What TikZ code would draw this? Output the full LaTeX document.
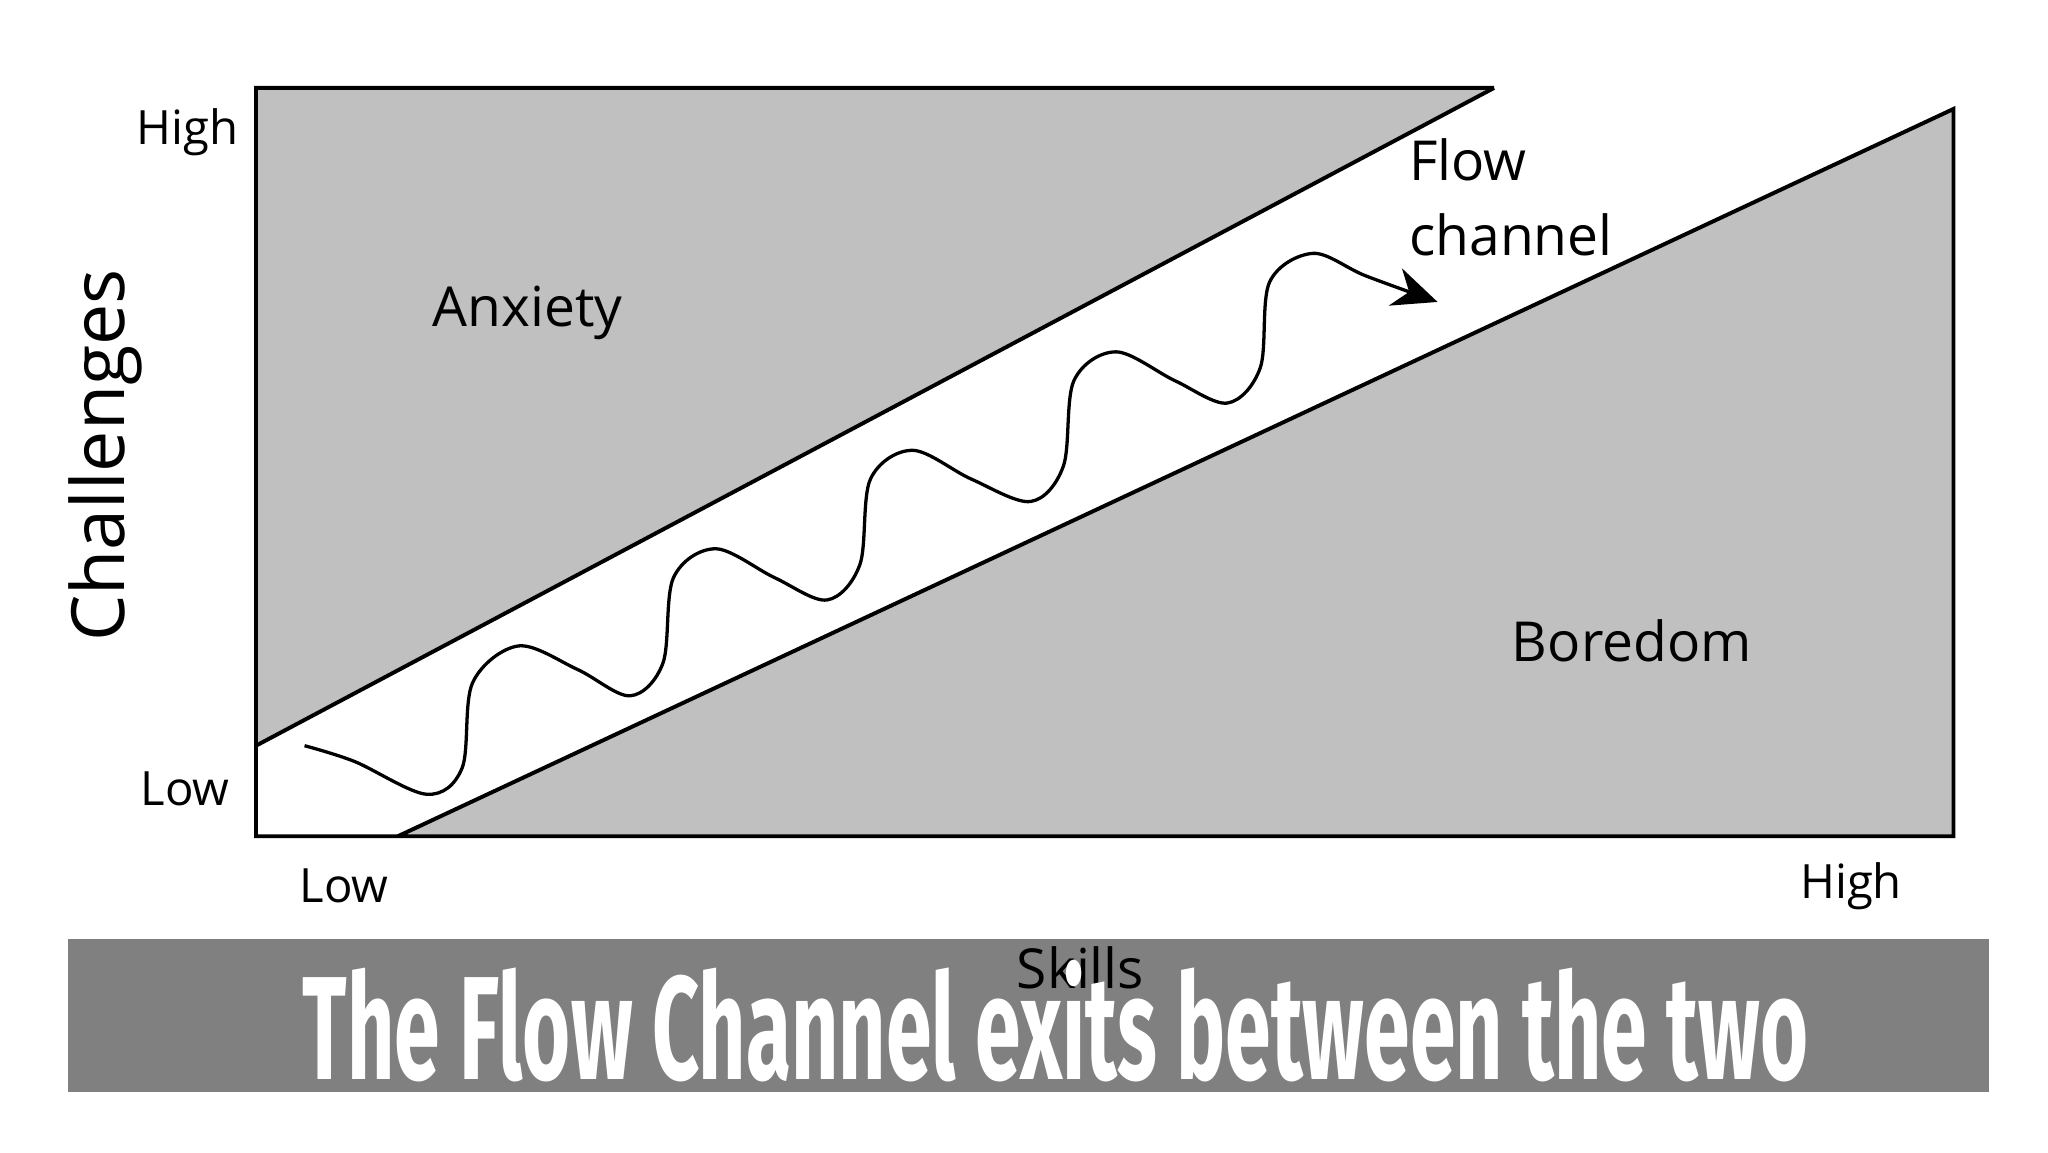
\documentclass[tikz,border=0pt]{standalone}
\usepackage{fontspec}
\setmainfont{Open Sans}
\newfontfamily\bannerfont{Fira Sans}
\usetikzlibrary{arrows.meta}
\tikzset{every picture/.style={line width=3pt}}
\tikzset{
  lbl/.style={inner sep=0pt, font=\fontsize{36}{40}\selectfont},
  zone/.style={inner sep=0pt, font=\fontsize{42}{46}\selectfont},
}
\begin{document}
\begin{tikzpicture}[x=1pt,y=1pt,yscale=-1,xscale=1]
\useasboundingbox (0,0) rectangle (1560,878);

% Zones
\fill [color={rgb, 255:red, 192; green, 192; blue, 192 }] (195,67) -- (1138,67) -- (195,568) -- cycle ;
\fill [color={rgb, 255:red, 192; green, 192; blue, 192 }] (303,637) -- (1488,83) -- (1488,637) -- cycle ;
\draw [line join=miter] (1138,67) -- (195,67) -- (195,637) -- (1488,637) -- (1488,83) -- (303,637) ;
\draw (1138,67) -- (195,568) ;

% Wave
\coordinate (start) at (232,568);
\coordinate (tip) at (1095,230);
\draw [line width=2.5pt, -{Stealth[length=34pt,width=30pt]}] plot [smooth, tension=0.55] coordinates {(start) (270,580) (325,605) (352,585) (360,520) (395,492) (440,510) (480,530) (505,505) (513,440) (545,418) (590,440) (630,457) (655,430) (663,365) (695,343) (740,365) (785,382) (810,355) (818,290) (850,268) (895,290) (935,307) (960,280) (967,215) (1000,193) (1040,210) (tip)};

% Text Node
\node [lbl] (chigh) at (143,101) {High};
\node [lbl] (clow) at (141,601) {Low};
\node [lbl] (slow) at (262,675) {Low};
\node [lbl] (shigh) at (1410,675) {High};
\node [inner sep=0pt, rotate=90, font=\fontsize{56}{60}\selectfont] (chal) at (80,347) {Challenges};
\node [zone] (anx) at (402,238) {Anxiety};
\node [zone, anchor=west, align=left, font=\fontsize{42}{57}\selectfont] (flow) at (1072,150) {Flow\\channel};
\node [zone] (bore) at (1243,488) {Boredom};

% Banner
\fill [color={rgb, 255:red, 128; green, 128; blue, 128 }] (52,715) rectangle (1515,832) ;
\node [zone] (skills) at (823,737) {Skills};
\node [inner sep=0pt, white, xscale=0.56, font=\bannerfont\bfseries\fontsize{112}{120}\selectfont] (title) at (804,778) {The Flow Channel exits between the two};
\end{tikzpicture}
\end{document}
